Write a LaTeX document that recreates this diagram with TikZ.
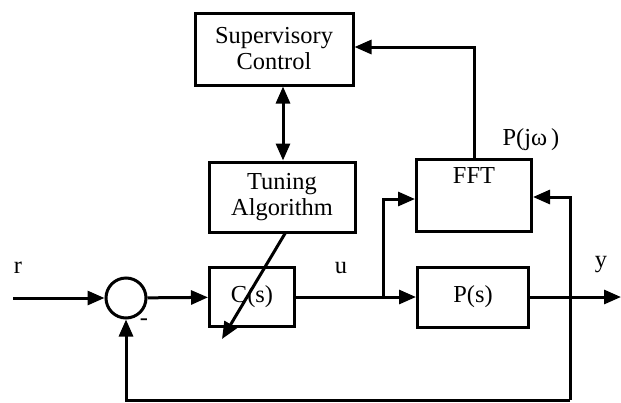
\documentclass[tikz,border=0pt]{standalone}
\usepackage{fontspec}
\setmainfont{Liberation Serif}
\usepackage{tikz}
\usetikzlibrary{arrows.meta, positioning}

\begin{document}
\begin{tikzpicture}[
      x=0.5pt, y=-0.5pt,
      block/.style={draw, line width=1.5pt, align=center, inner sep=1pt},
      sumnode/.style={draw, circle, line width=1.5pt, minimum size=20pt, inner sep=0pt},
      arrow/.style={-{Triangle[length=8.5pt, width=7pt]}, line width=1.5pt},
      dblarrow/.style={{Triangle[length=8.5pt, width=7pt]}-{Triangle[length=8.5pt, width=7pt]}, line width=1.5pt},
      line/.style={line width=1.5pt},
      every node/.style={font=\fontsize{12.2}{13}\selectfont}
    ]
    \useasboundingbox (0,0) rectangle (621,402);

    % Nodes
    \node[block, minimum width=79pt, minimum height=36pt] (sup) at (274,49) {Supervisory\\Control};
    \node[block, minimum width=73pt, minimum height=35pt] (tune) at (282,197) {Tuning\\Algorithm};
    \node[sumnode] (sum) at (126,298) {};
    \node[block, minimum width=42.5pt, minimum height=29.5pt] (ctrl) at (252,297) {C(s)};
    \node[block, minimum width=57.5pt, minimum height=36pt] (fft) at (474,195) {FFT\\[6pt]};
    \node[block, minimum width=55.5pt, minimum height=30pt] (plant) at (473,297) {P(s)};

    % Free ends
    \coordinate (rin) at (13,298);
    \coordinate (br) at (383,297);
    \coordinate (yout) at (621,297);
    \coordinate (fbb) at (570,400);
    \coordinate (adj) at (222,339);

    % Labels
    \node (rlab) at (18,268) {r};
    \node (ulab) at (341,268) {u};
    \node (ylab) at (601,265) {y};
    \node (pjw) at (531,140) {P(jω\,)};
    \node (minus) at (144,322) {-};

    % Arrows
    \draw[arrow] (rin) -- (sum);
    \draw[arrow] (sum) -- (ctrl);
    \draw[line] (ctrl) -- (br);
    \draw[arrow] (br) -- (plant);
    \draw[arrow] (br) |- ([yshift=-2pt]fft.west);
    \draw[arrow] (plant) -- (yout);
    \draw[arrow] (fbb) |- ([yshift=-1pt]fft.east);
    \draw[arrow] (fbb) -| (sum);
    \draw[arrow] (fft.north) |- ([yshift=1pt]sup.east);
    \draw[dblarrow] ([xshift=0.5pt]tune.north) -- ([xshift=0.5pt]tune.north |- sup.south);
    \draw[arrow] ([xshift=1.5pt]tune.south) -- (adj);

    \end{tikzpicture}
\end{document}
